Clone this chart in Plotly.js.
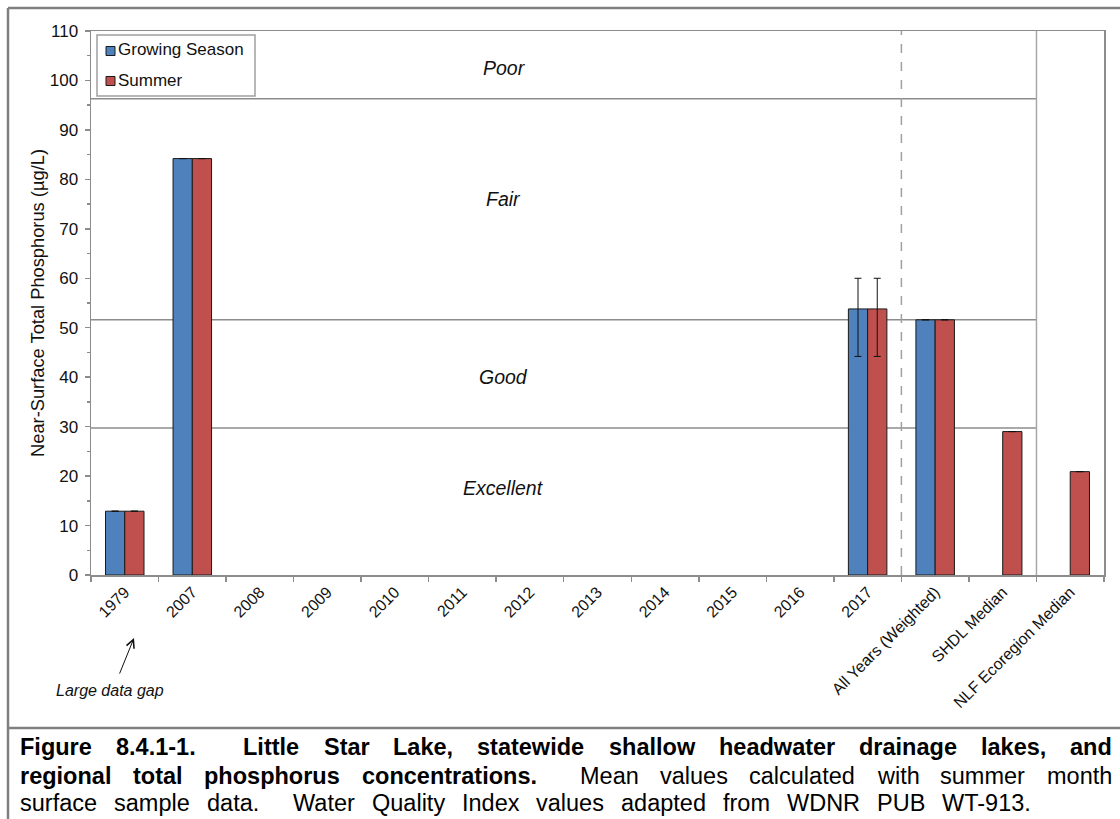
<!DOCTYPE html>
<html><head><meta charset="utf-8">
<script src="https://cdn.plot.ly/plotly-3.0.1.min.js"></script>
<style>html,body{margin:0;padding:0;background:#fff}#chart{width:1120px;height:819px}</style>
</head><body><div id="chart"></div>
<script>
// ---------------- data ----------------
const categories = ['1979','2007','2008','2009','2010','2011','2012','2013','2014','2015','2016','2017','All Years (Weighted)','SHDL Median','NLF Ecoregion Median'];
const growingSeason = [12.9, 84.2, null, null, null, null, null, null, null, null, null, 53.8, 51.6, null, null];
const summer        = [12.9, 84.2, null, null, null, null, null, null, null, null, null, 53.8, 51.6, 29.0, 20.9];
const growingErrPlus  = [null, null, null, null, null, null, null, null, null, null, null, 6.2, null, null, null];
const growingErrMinus = [null, null, null, null, null, null, null, null, null, null, null, 9.6, null, null, null];
const summerErrPlus   = [null, null, null, null, null, null, null, null, null, null, null, 6.2, null, null, null];
const summerErrMinus  = [null, null, null, null, null, null, null, null, null, null, null, 9.6, null, null, null];
const qualityThresholds = [96.3, 51.6, 29.7];
const qualityLabels = ['Poor', 'Fair', 'Good', 'Excellent'];
const seriesNames = ['Growing Season', 'Summer'];
const seriesColors = ['#4F81BD', '#C0504D'];
const yTitle = 'Near-Surface Total Phosphorus (µg/L)';
const gapNote = 'Large data gap';
const captionLines = [
  {text: 'Figure 8.4.1-1.  Little Star Lake, statewide shallow headwater drainage lakes, and', bold: 82, right: 1111},
  {text: 'regional total phosphorus concentrations.  Mean values calculated with summer month', bold: 41, right: 1111},
  {text: 'surface sample data.  Water Quality Index values adapted from WDNR PUB WT-913.', bold: 0, right: 1030}
];

// ---------------- geometry helpers ----------------
const W = 1120, Hh = 819;
const M = {l: 91, r: 16, t: 31, b: 244};
const PL = M.l, PR = W - M.r, PT = M.t, PB = Hh - M.b;
const px = x => (x - PL) / (PR - PL);
const py = y => (PB - y) / (PB - PT);
const FONT = 'Liberation Sans, Arial, sans-serif';
const GRAY = '#8c8c8c';
const OUTLINE = '#1a1a1a';

const traces = [
  {type: 'bar', name: seriesNames[0], x: categories, y: growingSeason, showlegend: false,
   marker: {color: seriesColors[0], line: {color: OUTLINE, width: 1}},
   error_y: {type: 'data', symmetric: false, array: growingErrPlus, arrayminus: growingErrMinus,
             color: '#111', thickness: 1, width: 3.5}},
  {type: 'bar', name: seriesNames[1], x: categories, y: summer, showlegend: false,
   marker: {color: seriesColors[1], line: {color: OUTLINE, width: 1}},
   error_y: {type: 'data', symmetric: false, array: summerErrPlus, arrayminus: summerErrMinus,
             color: '#111', thickness: 1, width: 3.5}}
];

const shapes = [];
// quality thresholds (stop at the SHDL / NLF separator)
qualityThresholds.forEach(v => shapes.push({type: 'line', xref: 'x', yref: 'y', x0: -0.5, x1: 13.5, y0: v, y1: v,
  line: {color: GRAY, width: 1.5}, layer: 'below'}));
// separators
shapes.push({type: 'line', xref: 'x', yref: 'paper', x0: 11.5, x1: 11.5, y0: 0, y1: 1, line: {color: '#a0a0a0', width: 1.5, dash: 'dash'}});
shapes.push({type: 'line', xref: 'x', yref: 'paper', x0: 13.5, x1: 13.5, y0: 0, y1: 1, line: {color: '#a8a8a8', width: 1.5}});
// outer frame and caption divider
shapes.push({type: 'line', xref: 'paper', yref: 'paper', x0: px(8), x1: px(8), y0: py(8), y1: py(830), line: {color: '#7f7f7f', width: 2.5}});
shapes.push({type: 'line', xref: 'paper', yref: 'paper', x0: px(8), x1: px(1125), y0: py(8), y1: py(8), line: {color: '#7f7f7f', width: 2.5}});
shapes.push({type: 'line', xref: 'paper', yref: 'paper', x0: px(8), x1: px(1125), y0: py(728), y1: py(728), line: {color: '#7f7f7f', width: 2.5}});
// legend box and swatches
shapes.push({type: 'rect', xref: 'paper', yref: 'paper', x0: px(97), x1: px(255), y0: py(35), y1: py(96),
  line: {color: '#a0a0a0', width: 1.5}, fillcolor: '#fff'});
const swatchY = [51, 81];
seriesNames.forEach((n, i) => shapes.push({type: 'rect', xref: 'paper', yref: 'paper',
  x0: px(106), x1: px(115), y0: py(swatchY[i] - 4.5), y1: py(swatchY[i] + 4.5),
  line: {color: OUTLINE, width: 1}, fillcolor: seriesColors[i]}));

const annotations = [];
seriesNames.forEach((n, i) => annotations.push({text: n, xref: 'paper', yref: 'paper', x: px(117), y: py(swatchY[i] - 1),
  xanchor: 'left', yanchor: 'middle', showarrow: false, borderpad: 0, font: {family: FONT, size: 17, color: '#111'}}));
const labelPos = [[504, 68], [503, 199], [503, 377], [503, 488]];
qualityLabels.forEach((t, i) => annotations.push({text: '<i>' + t + '</i>', xref: 'paper', yref: 'paper',
  x: px(labelPos[i][0]), y: py(labelPos[i][1]), xanchor: 'center', yanchor: 'middle', showarrow: false,
  font: {family: FONT, size: 19.5, color: '#111'}}));
annotations.push({text: '<i>' + gapNote + '</i>', xref: 'paper', yref: 'paper', x: px(110), y: py(690),
  xanchor: 'center', yanchor: 'middle', showarrow: false, font: {family: FONT, size: 16, color: '#111'}});
annotations.push({text: '', xref: 'paper', yref: 'paper', x: px(134), y: py(638), ax: -15, ay: 37,
  showarrow: true, arrowhead: 5, arrowsize: 1.6, arrowwidth: 1, arrowcolor: '#111'});

// caption with justification
const cv = document.createElement('canvas').getContext('2d');
const CAP_SIZE = 23.5;
const capLeft = 19;
const capY = [747, 775.5, 803];
function fontStr(bold) { return (bold ? 'bold ' : '') + CAP_SIZE + 'px "Liberation Sans", Arial, sans-serif'; }
captionLines.forEach((ln, li) => {
  const toks = [];
  let idx = 0;
  ln.text.split(' ').forEach(w => {
    const bold = idx < ln.bold;
    cv.font = fontStr(bold);
    toks.push({w, bold, width: w ? cv.measureText(w).width : 0});
    idx += w.length + 1;
  });
  const sum = toks.reduce((a, t) => a + t.width, 0);
  cv.font = fontStr(false);
  const gap = Math.max(cv.measureText(' ').width * 0.6, (ln.right - capLeft - sum) / (toks.length - 1));
  let x = capLeft;
  toks.forEach(t => {
    if (t.w) annotations.push({text: t.bold ? '<b>' + t.w + '</b>' : t.w, xref: 'paper', yref: 'paper',
      x: px(x), y: py(capY[li]), xanchor: 'left', yanchor: 'middle', showarrow: false, borderpad: 0,
      font: {family: FONT, size: CAP_SIZE, color: '#000'}});
    x += t.width + gap;
  });
});

const layout = {
  width: W, height: Hh, margin: M, paper_bgcolor: '#fff', plot_bgcolor: '#fff',
  barmode: 'group', bargap: 0.43, bargroupgap: 0,
  font: {family: FONT, color: '#111'},
  showlegend: false,
  xaxis: {type: 'category', range: [-0.5, 14.5], showgrid: false, zeroline: false,
          showline: true, linecolor: GRAY, linewidth: 1.5, mirror: true,
          ticks: 'outside', tickson: 'boundaries', ticklen: 5, tickcolor: GRAY, tickwidth: 1.5,
          tickangle: -45, tickfont: {family: FONT, size: 16, color: '#111'}, fixedrange: true},
  yaxis: {range: [0, 110], dtick: 10, showgrid: false, zeroline: false,
          showline: true, linecolor: GRAY, linewidth: 1.5, mirror: true,
          ticks: 'outside', ticklen: 5, tickcolor: GRAY, tickwidth: 1.5, ticklabelstandoff: 3,
          minor: {dtick: 5, ticks: 'outside', ticklen: 3, tickcolor: GRAY, showgrid: false},
          tickfont: {family: FONT, size: 17, color: '#111'},
          title: {text: yTitle, font: {family: FONT, size: 18.3, color: '#111'}, standoff: 0}, automargin: false},
  shapes, annotations
};

Plotly.newPlot('chart', traces, layout, {displayModeBar: false, staticPlot: true});
</script></body></html>
